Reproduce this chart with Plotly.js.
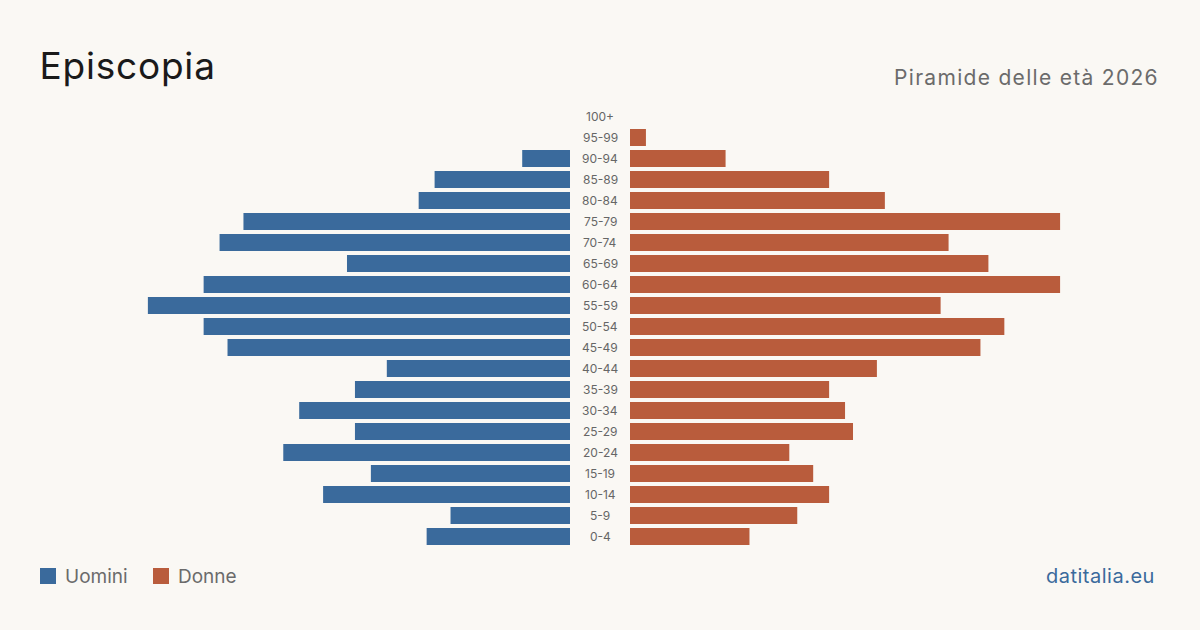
<!DOCTYPE html>
<html>
<head>
<meta charset="utf-8">
<script src="https://cdn.plot.ly/plotly-3.0.1.min.js"></script>
<style>
html,body{margin:0;padding:0;background:#faf8f4;}
#chart{width:1200px;height:630px;}
g.annotation[data-index="21"] text{letter-spacing:0.8px;}
g.annotation[data-index="22"] text{letter-spacing:1.3px;}
g.annotation[data-index="25"] text{letter-spacing:0.5px;}
</style>
</head>
<body>
<div id="chart"></div>
<script>
const ageGroups = ["0-4","5-9","10-14","15-19","20-24","25-29","30-34","35-39","40-44","45-49","50-54","55-59","60-64","65-69","70-74","75-79","80-84","85-89","90-94","95-99","100+"];
const men   = [18,15,31,25,36,27,34,27,23,43,46,53,46,28,44,41,19,17,6,0,0];
const women = [15,21,25,23,20,28,27,25,31,44,47,39,54,45,40,54,32,25,12,2,0];
const title = "Episcopia";
const subtitle = "Piramide delle età 2026";
const seriesNames = ["Uomini","Donne"];
const source = "datitalia.eu";

const blue = "#3a6a9c";
const orange = "#b95c3c";
const bg = "#faf8f4";
const W = 1200, H = 630;
const px = v => v / W;
const py = v => (H - v) / H;
const maxR = 56.5;

const traces = [
  {type:"bar", orientation:"h", y:ageGroups, x:men, xaxis:"x", yaxis:"y",
   marker:{color:blue}, name:seriesNames[0], hoverinfo:"x+y", showlegend:false},
  {type:"bar", orientation:"h", y:ageGroups, x:women, xaxis:"x2", yaxis:"y",
   marker:{color:orange}, name:seriesNames[1], hoverinfo:"x+y", showlegend:false}
];

const annotations = ageGroups.map(a => ({
  xref:"paper", yref:"y", x:0.5, y:a, text:a, showarrow:false,
  xanchor:"center", yanchor:"middle",
  font:{family:"Inter, 'Noto Sans', sans-serif", size:12, color:"#666"}
}));
annotations.push(
  {xref:"paper", yref:"paper", x:px(41), y:py(66), text:title, showarrow:false,
   xanchor:"left", yanchor:"middle",
   font:{family:"Inter, 'Noto Sans', sans-serif", size:37, color:"#1a1a1a"}},
  {xref:"paper", yref:"paper", x:px(1146), y:py(77), text:subtitle, showarrow:false,
   xanchor:"right", yanchor:"middle",
   font:{family:"Inter, 'Noto Sans', sans-serif", size:21, color:"#6b6b6b"}},
  {xref:"paper", yref:"paper", x:px(63), y:py(576), text:seriesNames[0], showarrow:false,
   xanchor:"left", yanchor:"middle",
   font:{family:"Inter, 'Noto Sans', sans-serif", size:19, color:"#6b6b6b"}},
  {xref:"paper", yref:"paper", x:px(176), y:py(576), text:seriesNames[1], showarrow:false,
   xanchor:"left", yanchor:"middle",
   font:{family:"Inter, 'Noto Sans', sans-serif", size:19, color:"#6b6b6b"}},
  {xref:"paper", yref:"paper", x:px(1154), y:py(576), text:source, showarrow:false,
   xanchor:"right", yanchor:"middle",
   font:{family:"Inter, 'Noto Sans', sans-serif", size:20, color:"#3a6a9c"}}
);

const shapes = [
  {type:"rect", xref:"paper", yref:"paper", x0:px(40), x1:px(56), y0:py(568), y1:py(584),
   fillcolor:blue, line:{width:0}},
  {type:"rect", xref:"paper", yref:"paper", x0:px(153), x1:px(169), y0:py(568), y1:py(584),
   fillcolor:orange, line:{width:0}}
];

const layout = {
  width:W, height:H,
  margin:{l:0,r:0,t:0,b:0},
  paper_bgcolor:bg, plot_bgcolor:bg,
  showlegend:false,
  bargap:4/21,
  xaxis:{domain:[px(120), px(570)], range:[maxR,0], visible:false, fixedrange:true},
  xaxis2:{domain:[px(630), px(1080)], range:[0,maxR], visible:false, fixedrange:true},
  yaxis:{domain:[py(547), py(106)], type:"category", categoryorder:"array",
         categoryarray:ageGroups, visible:false, range:[-0.5,20.5]},
  annotations:annotations,
  shapes:shapes
};

Plotly.newPlot("chart", traces, layout, {displayModeBar:false, staticPlot:true});
</script>
</body>
</html>
